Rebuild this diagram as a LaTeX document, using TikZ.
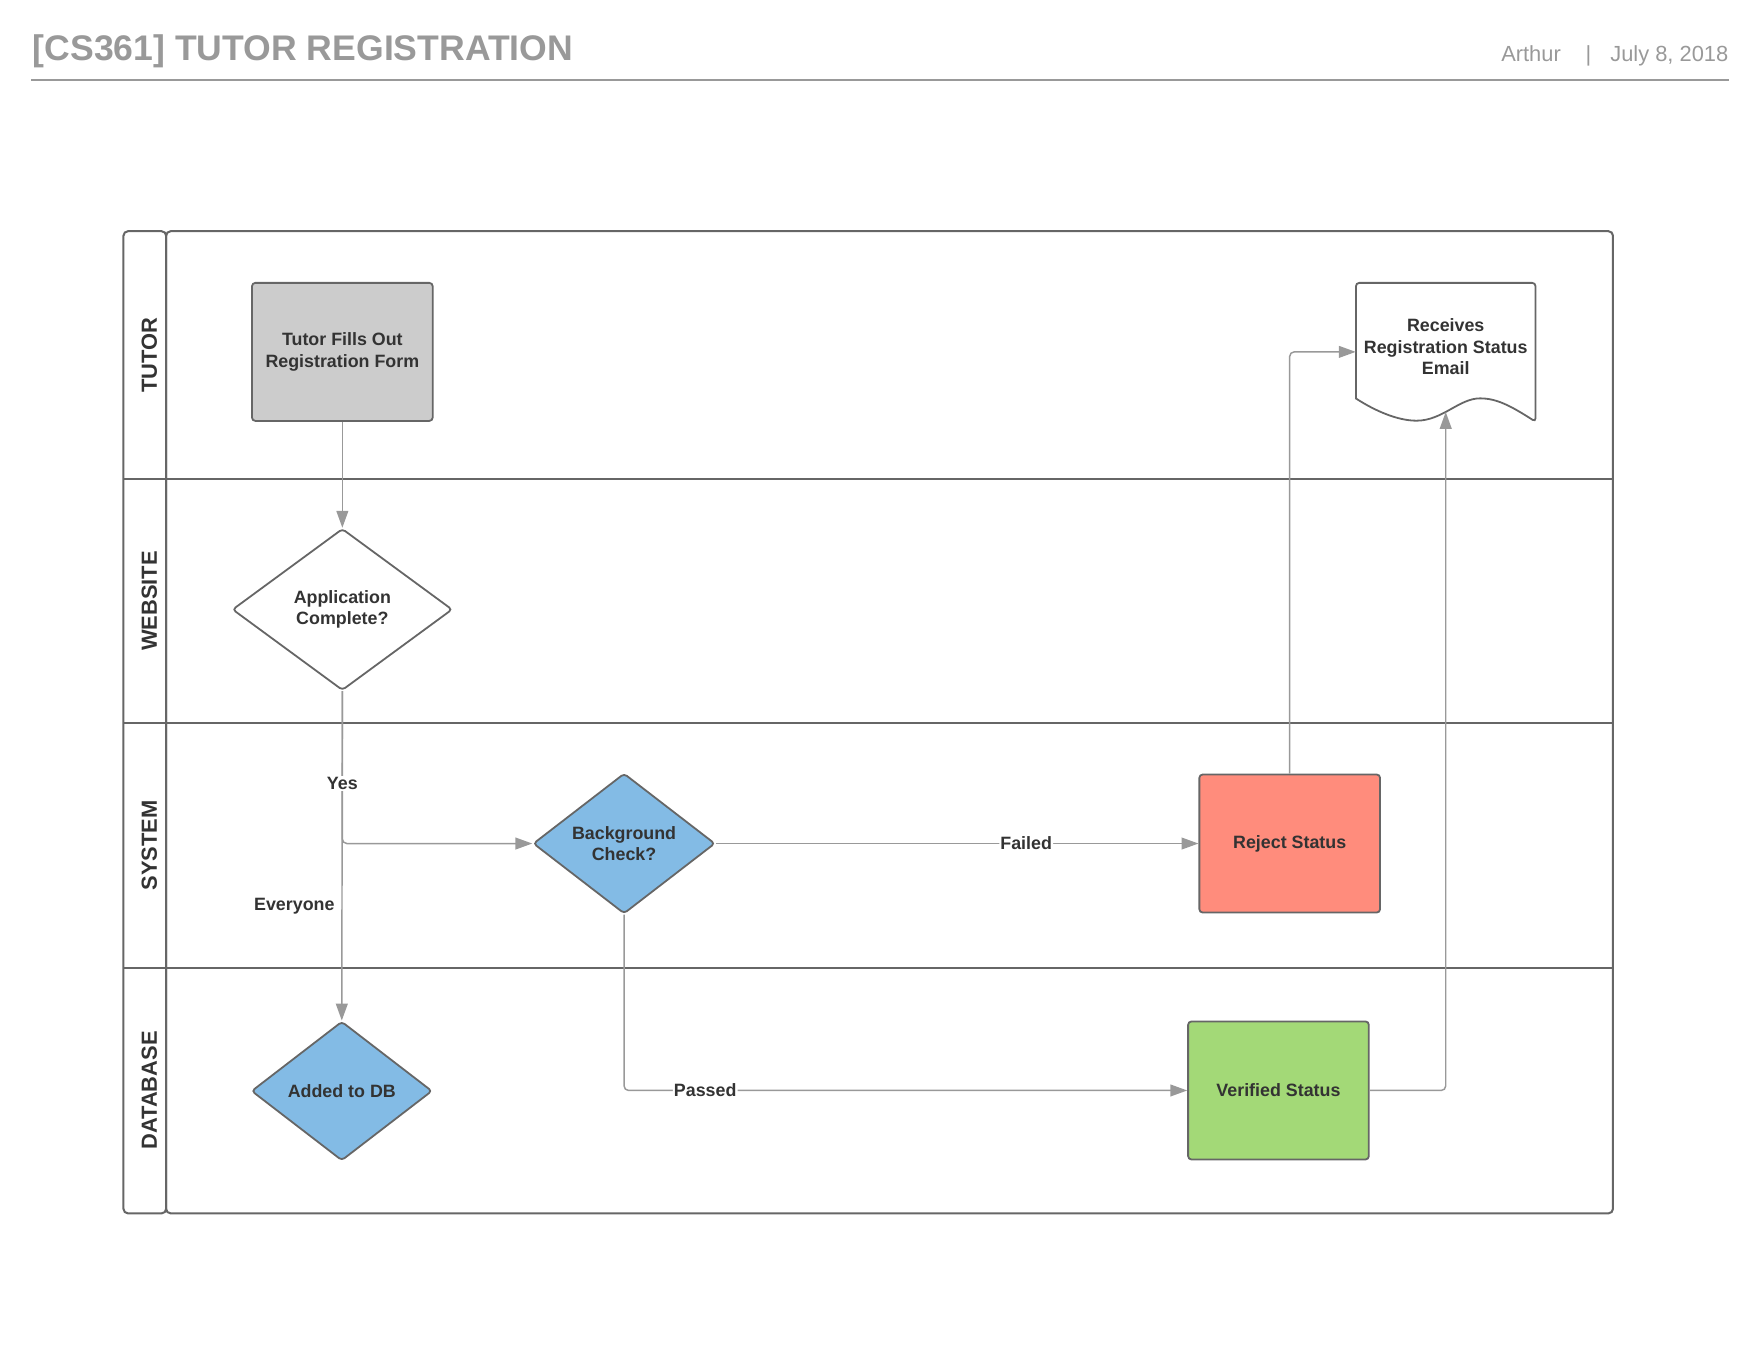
\documentclass[tikz,border=0pt]{standalone}
\usepackage{fontspec}
\setmainfont{Liberation Sans}
\usetikzlibrary{shapes.geometric,arrows.meta}
\definecolor{edge}{HTML}{666666}
\definecolor{wire}{HTML}{999999}
\definecolor{txt}{HTML}{333333}
\definecolor{formgray}{HTML}{CCCCCC}
\definecolor{checkblue}{HTML}{83BBE5}
\definecolor{rejectred}{HTML}{FF8C7C}
\definecolor{passgreen}{HTML}{A3D977}
\begin{document}
\begin{tikzpicture}[x=1pt,y=-1pt,
  >={Triangle[length=15pt,width=10.5pt]},
  box/.style={draw=edge,line width=1.6pt,rounded corners=3pt,minimum width=161pt,minimum height=123pt,
    align=center,text=txt,font=\bfseries\fontsize{15.9}{19}\selectfont},
  dec/.style={diamond,draw=edge,line width=1.6pt,rounded corners=3pt,inner sep=0pt,
    align=center,text=txt,font=\bfseries\fontsize{15.9}{19}\selectfont},
  link/.style={draw=wire,line width=1.3pt,rounded corners=4pt,->},
  tag/.style={fill=white,inner sep=1pt,text=txt,font=\bfseries\fontsize{15.9}{19}\selectfont},
  lanes/.style={draw=edge,line width=1.8pt},
  lane/.style={rotate=90,text=txt,font=\bfseries\fontsize{19.5}{23}\selectfont}]
\useasboundingbox (0,0) rectangle (1568,1211.7);
\node[anchor=base west,inner sep=0pt,text=wire,font=\bfseries\fontsize{31.7}{36}\selectfont] (title) at (29,54) {[CS361] TUTOR REGISTRATION};
\node[anchor=base east,inner sep=0pt,text=wire,font=\fontsize{19.5}{23}\selectfont] (byline) at (1540,55) {Arthur\hspace{22pt}|\hspace{17pt}July 8, 2018};
\draw[wire,line width=1.5pt] (28,71) -- (1540,71);
\draw[lanes,rounded corners=4pt] (110,206) rectangle (148,1081);
\draw[lanes,rounded corners=4pt] (148,206) rectangle (1437,1081);
\draw[lanes] (110,427) -- (1437,427);
\draw[lanes] (110,644) -- (1437,644);
\draw[lanes] (110,862) -- (1437,862);
\node[lane] (tutor) at (133,316.5) {TUTOR};
\node[lane] (website) at (133,535.5) {WEBSITE};
\node[lane] (system) at (133,753) {SYSTEM};
\node[lane] (database) at (133,971.5) {DATABASE};
\node[box,fill=formgray] (form) at (305,313.5) {Tutor Fills Out\\Registration Form};
\node[dec,fill=white,minimum width=196pt,minimum height=144pt] (app) at (305,543) {Application\\Complete?};
\node[dec,fill=checkblue,minimum width=162pt,minimum height=125pt] (bg) at (556,751.5) {Background\\Check?};
\node[dec,fill=checkblue,minimum width=161pt,minimum height=124pt] (db) at (304.5,972) {Added to DB};
\node[box,fill=rejectred] (rej) at (1149,751.5) {Reject Status};
\node[box,fill=passgreen] (ver) at (1139,971.5) {Verified Status};
\draw[edge,line width=1.6pt,fill=white,rounded corners=3pt] (1208,355) -- (1208,252) -- (1368,252) -- (1368,375.7)
  [sharp corners] .. controls (1345,361) and (1333,354.9) .. (1318.5,354.9)
  .. controls (1300,354.9) and (1285,374.8) .. (1262,374.8)
  .. controls (1245,374.8) and (1225,366) .. cycle;
\node[minimum width=160pt,minimum height=123pt,text depth=9pt,align=center,text=txt,font=\bfseries\fontsize{15.9}{19}\selectfont] (doc) at (1288,313.5) {Receives\\Registration Status\\Email};
\coordinate (docb) at (1288,367);
\draw[link] (form) -- (app);
\draw[link] (app.south) -- node[pos=0.652,anchor=east,xshift=-6pt,inner sep=0pt,text=txt,font=\bfseries\fontsize{15.9}{19}\selectfont] {Everyone} (db.north);
\draw[link] (app.south) |- node[tag,pos=0.303] {Yes} (bg.west);
\draw[link] (bg.east) -- node[tag,pos=0.643] {Failed} (rej.west);
\draw[link] (bg.south) |- node[tag,pos=0.572] {Passed} (ver.west);
\draw[link] (rej.north) |- (doc.west);
\draw[link] (ver.east) -| (docb);
\end{tikzpicture}
\end{document}
